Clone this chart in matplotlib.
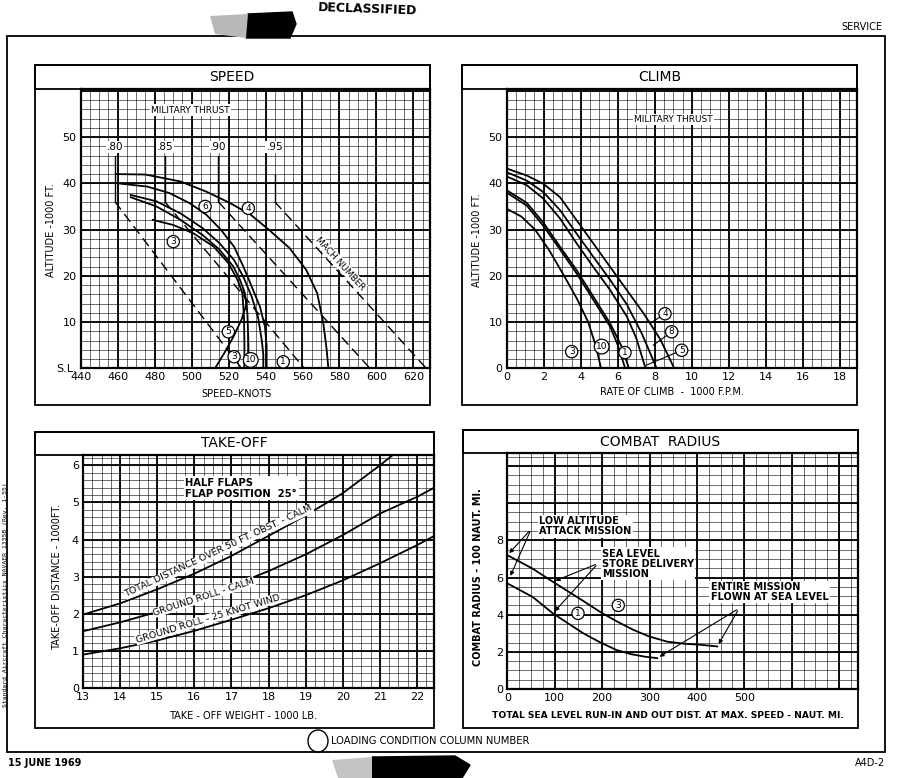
import matplotlib
matplotlib.use("Agg")
import matplotlib.pyplot as plt
from matplotlib.patches import Rectangle, Ellipse, Polygon
import numpy as np

plt.rcParams['font.family'] = ['DejaVu Sans']

# ---------------- SPEED (knots vs 1000 ft) ----------------
spd_c4_kts = [459, 475, 494, 508, 521, 532, 542, 553, 562, 568, 571.3, 573.1, 574]
spd_c4_alt = [42, 41.9, 40.4, 38.2, 35.7, 33.2, 29.9, 26, 21.3, 16.2, 9.7, 4, 0]
spd_c6_kts = [460, 476, 488, 499, 508, 516, 523, 528, 532.5, 537, 539.7, 540.6, 540.6]
spd_c6_alt = [40, 39.3, 37.9, 35.7, 33.2, 29.9, 26.3, 22, 17.7, 13.3, 9, 4.7, 0]
spd_c1_kts = [467, 481, 494, 506, 515, 523, 528, 532.5, 536, 538, 538.8, 538.8]
spd_c1_alt = [37.5, 36.1, 33.5, 30.3, 27.1, 23.4, 19.8, 15.5, 11, 6, 3, 0]
spd_c10_kts = [467, 481, 494, 506, 515, 522.6, 526.2, 528.9, 530.2, 530.7, 530.9]
spd_c10_alt = [37, 35, 32.1, 28.8, 25.7, 22, 19.1, 16.2, 11.9, 6.1, 0]
spd_c3_kts = [479, 490, 501, 512, 520, 525, 527.5, 528.4, 528.6, 528.5]
spd_c3_alt = [32.1, 31, 29.2, 26.3, 22.7, 19, 16.2, 10.5, 4.7, 0]
spd_c5_kts = [528, 529.8, 527, 522.6, 518, 512.7]
spd_c5_alt = [17, 14, 10.5, 6.8, 3.5, 0]

mach_labels = ['.80', '.85', '.90', '.95']
mach_tropo_kts = [458.6, 485.6, 514.5, 545]
mach_top_alt = [46, 46, 46, 41.8]
mach_sl_kts = [527, 561, 596.5, 627]
tropo_alt = 36

spd_lbl_text = ['6', '4', '3', '5', '3', '10', '1']
spd_lbl_kts = [507.3, 530.7, 490.1, 519.9, 523, 532, 549.6]
spd_lbl_alt = [35.0, 34.6, 27.4, 7.9, 2.5, 1.8, 1.4]

# ---------------- CLIMB (1000 fpm vs 1000 ft) ----------------
clb_c4_roc = [0, 1.08, 1.98, 2.88, 3.78, 4.68, 5.59, 6.49, 7.39, 8.29, 9.05]
clb_c4_alt = [43.2, 41.7, 39.9, 37, 32, 27, 21.9, 16.9, 11.9, 6.3, 0]
clb_c8_roc = [0, 1.08, 1.98, 2.88, 3.78, 4.68, 5.59, 6.49, 7.3, 8.1]
clb_c8_alt = [42.4, 40.6, 38.1, 34.2, 29.1, 24.1, 19.1, 13.8, 7.5, 0]
clb_c5_roc = [0, 1.08, 1.98, 2.88, 3.78, 4.68, 5.59, 6.49, 7.0, 7.5]
clb_c5_alt = [41.5, 39.6, 36.7, 32.4, 27, 21.9, 16.9, 11.2, 6.5, 0]
clb_c1_roc = [0, 1.08, 1.98, 2.88, 3.78, 4.68, 5.59, 6.2, 6.6]
clb_c1_alt = [38.5, 35.8, 31.5, 26.3, 21.2, 15.5, 9.7, 4.8, 0]
clb_c10_roc = [0, 1.08, 1.98, 2.88, 3.78, 4.68, 5.59, 6.0, 6.4]
clb_c10_alt = [38, 35.2, 30.8, 25.7, 20.5, 14.8, 9, 5, 0]
clb_c3_roc = [0, 0.8, 1.53, 2.3, 3.1, 3.8, 4.4, 4.8, 5.1]
clb_c3_alt = [34.5, 32.8, 30, 25.5, 20, 15, 10, 5, 0]

clb_lbl_text = ['3', '10', '1', '4', '8', '5']
clb_lbl_roc = [3.51, 5.13, 6.39, 8.55, 8.91, 9.45]
clb_lbl_alt = [3.6, 4.7, 3.4, 11.8, 7.9, 3.9]
clb_lead_roc = [7.74, 7.92, 7.56]
clb_lead_alt = [9.7, 5.0, 0.7]

# ---------------- TAKE-OFF (1000 lb vs 1000 ft) ----------------
to_total_wt = [13, 14, 15, 16, 17, 18, 19, 20, 21, 21.35]
to_total_dist = [1.98, 2.28, 2.66, 3.08, 3.56, 4.1, 4.65, 5.25, 6.0, 6.28]
to_calm_wt = [13, 14, 15, 16, 17, 18, 19, 20, 21, 22, 22.45]
to_calm_dist = [1.53, 1.77, 2.05, 2.38, 2.75, 3.15, 3.6, 4.12, 4.7, 5.15, 5.39]
to_wind_wt = [13, 14, 15, 16, 17, 18, 19, 20, 21, 22, 22.45]
to_wind_dist = [0.9, 1.07, 1.28, 1.54, 1.84, 2.15, 2.5, 2.9, 3.36, 3.85, 4.09]

# ---------------- COMBAT RADIUS (naut mi vs 100 naut mi) ----------------
cr_c3_dist = [0, 53, 96, 124, 160, 195, 230, 266, 300, 337, 372, 408, 443]
cr_c3_rad = [7.2, 6.48, 5.77, 5.32, 4.74, 4.16, 3.65, 3.18, 2.82, 2.55, 2.44, 2.38, 2.29]
cr_c1_dist = [0, 53, 96, 130, 160, 195, 230, 260, 290, 316]
cr_c1_rad = [5.68, 4.96, 4.07, 3.5, 3.0, 2.52, 2.1, 1.88, 1.74, 1.66]

W, H = 900, 778
fig = plt.figure(figsize=(9, 7.78), dpi=100)
fig.patch.set_facecolor('white')


def fx(px):
    return px / W


def fy(py):
    return 1 - py / H


def axes_px(l, t, r, b):
    return fig.add_axes([fx(l), fy(b), (r - l) / W, (b - t) / H])


def rect_px(l, t, r, b, lw=1.2, fc='none', z=1, ec='black'):
    fig.add_artist(Rectangle((fx(l), fy(b)), (r - l) / W, (b - t) / H,
                             transform=fig.transFigure, fill=(fc != 'none'),
                             facecolor=fc if fc != 'none' else 'white',
                             edgecolor=ec, lw=lw, zorder=z))


def text_px(px, py, s, **kw):
    return fig.text(fx(px), fy(py), s, **kw)


def graph_paper(ax, x0, x1, xmin_step, xmaj_step, y0, y1, ymin_step, ymaj_step):
    for v in np.arange(x0, x1 + 1e-9, xmin_step):
        ax.axvline(v, color='black', lw=0.5, alpha=0.8, zorder=1)
    for v in np.arange(x0, x1 + 1e-9, xmaj_step):
        ax.axvline(v, color='black', lw=1.3, zorder=1.5)
    for v in np.arange(y0, y1 + 1e-9, ymin_step):
        ax.axhline(v, color='black', lw=0.5, alpha=0.8, zorder=1)
    for v in np.arange(y0, y1 + 1e-9, ymaj_step):
        ax.axhline(v, color='black', lw=1.3, zorder=1.5)


def style_axes(ax):
    for s in ax.spines.values():
        s.set_linewidth(1.6)
    ax.tick_params(length=0, labelsize=8, pad=3)


def circ(ax, x, y, s, fs=6.5):
    ax.text(x, y, s, ha='center', va='center', fontsize=fs, zorder=6,
            bbox=dict(boxstyle='circle,pad=0.18', fc='white', ec='black', lw=0.9))


def angle(ax, p0, p1):
    a = ax.transData.transform(p0)
    b = ax.transData.transform(p1)
    return np.degrees(np.arctan2(b[1] - a[1], b[0] - a[0]))


# ---------------- page frame and panels ----------------
rect_px(7, 36, 885, 752, lw=1.3)
for (l, t, r, b, tb) in [(35, 65, 430, 405, 89), (462, 65, 857, 405, 89),
                         (35, 432, 434, 728, 455), (463, 430, 858, 728, 453)]:
    rect_px(l, t, r, b, lw=1.3)
    rect_px(l, t, r, tb, lw=1.3)

text_px(882, 27, 'SERVICE', ha='right', va='center', fontsize=7)
text_px(8, 763, '15 JUNE 1969', ha='left', va='center', fontsize=7, fontweight='bold')
text_px(885, 763, 'A4D-2', ha='right', va='center', fontsize=7)
text_px(368, 1.5, 'DECLASSIFIED', ha='center', va='top', fontsize=9,
        fontweight='bold', rotation=-2)
text_px(6, 595, 'Standard Aircraft Characteristics NAVAER 1335B (Rev. 1-55)',
        rotation=90, ha='center', va='center', fontsize=4.6, family='DejaVu Sans Mono')
fig.add_artist(Ellipse((fx(318), fy(741)), 20 / W, 22 / H, transform=fig.transFigure,
                       fill=False, lw=1.0, ec='black'))
text_px(331, 741, 'LOADING CONDITION COLUMN NUMBER', ha='left', va='center', fontsize=7.2)

# redaction smudges
fig.add_artist(Polygon([(fx(248), fy(14)), (fx(292), fy(12)), (fx(296), fy(24)),
                        (fx(290), fy(38)), (fx(246), fy(38))], closed=True,
                       transform=fig.transFigure, fc='black', ec='black'))
fig.add_artist(Polygon([(fx(210), fy(16)), (fx(248), fy(14)), (fx(246), fy(38)),
                        (fx(215), fy(34))], closed=True,
                       transform=fig.transFigure, fc='#b8b8b8', ec='none'))
fig.add_artist(Polygon([(fx(372), fy(757)), (fx(455), fy(756)), (fx(470), fy(765)),
                        (fx(462), fy(778)), (fx(372), fy(778))], closed=True,
                       transform=fig.transFigure, fc='black', ec='black'))
fig.add_artist(Polygon([(fx(332), fy(760)), (fx(372), fy(757)), (fx(372), fy(778)),
                        (fx(338), fy(778))], closed=True,
                       transform=fig.transFigure, fc='#c4c4c4', ec='none'))

# ---------------- SPEED ----------------
ax = axes_px(80.7, 89, 430, 368.3)
ax.set_xlim(440, 629)
ax.set_ylim(0, 60.4)
graph_paper(ax, 440, 625, 5, 20, 0, 60, 2, 10)
style_axes(ax)
ax.set_xticks(range(440, 621, 20))
ax.set_yticks([0, 10, 20, 30, 40, 50])
ax.set_yticklabels(['S.L.', '10', '20', '30', '40', '50'])
for xs, ys in [(spd_c4_kts, spd_c4_alt), (spd_c6_kts, spd_c6_alt), (spd_c1_kts, spd_c1_alt),
               (spd_c10_kts, spd_c10_alt), (spd_c3_kts, spd_c3_alt), (spd_c5_kts, spd_c5_alt)]:
    ax.plot(xs, ys, color='black', lw=1.3, zorder=4)
for lab, xt, ya, xs in zip(mach_labels, mach_tropo_kts, mach_top_alt, mach_sl_kts):
    ax.plot([xt, xt], [ya, tropo_alt], color='black', lw=1.0, zorder=3)
    ax.plot([xt, xs], [tropo_alt, 0], color='black', lw=1.0, dashes=(7, 4), zorder=3)
    ax.text(xt, 47.8, lab, ha='center', va='center', fontsize=7.5, zorder=5,
            bbox=dict(boxstyle='square,pad=0.1', fc='white', ec='none'))
rot = angle(ax, (mach_tropo_kts[3], tropo_alt), (mach_sl_kts[3], 0))
ax.text(580.5, 22.7, 'MACH NUMBER', rotation=rot, ha='center', va='center', fontsize=6.5,
        zorder=5, bbox=dict(boxstyle='square,pad=0.1', fc='white', ec='none'))
ax.text(499.5, 55.8, 'MILITARY THRUST', ha='center', va='center', fontsize=6.5, zorder=5,
        bbox=dict(boxstyle='square,pad=0.15', fc='white', ec='none'))
for s, xk, ya in zip(spd_lbl_text, spd_lbl_kts, spd_lbl_alt):
    circ(ax, xk, ya, s)
text_px(232, 77, 'SPEED', ha='center', va='center', fontsize=10)
text_px(237, 394, 'SPEED\u2013KNOTS', ha='center', va='center', fontsize=7)
text_px(51, 230, 'ALTITUDE -1000 FT.', rotation=90, ha='center', va='center', fontsize=7)

# ---------------- CLIMB ----------------
ax = axes_px(506.7, 89, 857, 368.3)
ax.set_xlim(0, 18.92)
ax.set_ylim(0, 60.4)
graph_paper(ax, 0, 18.5, 0.5, 2, 0, 60, 2, 10)
style_axes(ax)
ax.set_xticks(range(0, 19, 2))
ax.set_yticks(range(0, 51, 10))
for xs, ys in [(clb_c4_roc, clb_c4_alt), (clb_c8_roc, clb_c8_alt), (clb_c5_roc, clb_c5_alt),
               (clb_c1_roc, clb_c1_alt), (clb_c10_roc, clb_c10_alt), (clb_c3_roc, clb_c3_alt)]:
    ax.plot(xs, ys, color='black', lw=1.3, zorder=4)
for i in range(3):
    ax.plot([clb_lbl_roc[3 + i], clb_lead_roc[i]], [clb_lbl_alt[3 + i], clb_lead_alt[i]],
            color='black', lw=0.8, zorder=4)
for s, xr, ya in zip(clb_lbl_text, clb_lbl_roc, clb_lbl_alt):
    circ(ax, xr, ya, s)
ax.text(9.0, 53.8, 'MILITARY THRUST', ha='center', va='center', fontsize=6.5, zorder=5,
        bbox=dict(boxstyle='square,pad=0.15', fc='white', ec='none'))
text_px(660, 77, 'CLIMB', ha='center', va='center', fontsize=10)
text_px(672, 392, 'RATE OF CLIMB  -  1000 F.P.M.', ha='center', va='center', fontsize=7)
text_px(477, 240, 'ALTITUDE -1000 FT.', rotation=90, ha='center', va='center', fontsize=7)

# ---------------- TAKE-OFF ----------------
ax = axes_px(83, 455, 434, 688)
ax.set_xlim(13, 22.46)
ax.set_ylim(0, 6.28)
graph_paper(ax, 13, 22.25, 0.25, 1, 0, 6.2, 0.2, 1)
style_axes(ax)
ax.set_xticks(range(13, 23))
ax.set_yticks(range(0, 7))
ax.plot(to_total_wt, to_total_dist, color='black', lw=1.3, zorder=4)
ax.plot(to_calm_wt, to_calm_dist, color='black', lw=1.3, zorder=4)
ax.plot(to_wind_wt, to_wind_dist, color='black', lw=1.3, zorder=4)
tb = dict(boxstyle='square,pad=0.05', fc='white', ec='none')
ax.text(16.66, 3.68, 'TOTAL DISTANCE OVER 50 FT. OBST. - CALM', ha='center', va='center',
        rotation=angle(ax, (13.5, 2.25), (19.8, 5.2)), fontsize=6.8, zorder=5, bbox=tb)
ax.text(16.25, 2.45, 'GROUND ROLL - CALM', ha='center', va='center',
        rotation=angle(ax, (14.6, 1.93), (17.9, 3.0)), fontsize=6.8, zorder=5, bbox=tb)
ax.text(16.37, 1.86, 'GROUND ROLL - 25 KNOT WIND', ha='center', va='center',
        rotation=angle(ax, (14.1, 1.2), (18.6, 2.55)), fontsize=6.8, zorder=5, bbox=tb)
ax.text(15.76, 5.38, 'HALF FLAPS\nFLAP POSITION  25\u00b0', ha='left', va='center',
        fontsize=7.2, fontweight='bold', zorder=5, linespacing=1.1,
        bbox=dict(boxstyle='square,pad=0.15', fc='white', ec='none'))
text_px(234, 443, 'TAKE-OFF', ha='center', va='center', fontsize=10)
text_px(243, 716, 'TAKE - OFF WEIGHT - 1000 LB.', ha='center', va='center', fontsize=7)
text_px(57, 577, 'TAKE-OFF DISTANCE - 1000FT.', rotation=90, ha='center', va='center',
        fontsize=7)

# ---------------- COMBAT RADIUS ----------------
ax = axes_px(507.4, 453, 858, 689)
ax.set_xlim(0, 740)
ax.set_ylim(0, 12.7)
graph_paper(ax, 0, 725, 25, 100, 0, 12.5, 0.5, 2)
style_axes(ax)
ax.set_xticks(range(0, 501, 100))
ax.set_yticks(range(0, 9, 2))
ax.plot(cr_c3_dist, cr_c3_rad, color='black', lw=1.3, zorder=4)
ax.plot(cr_c1_dist, cr_c1_rad, color='black', lw=1.3, zorder=4)
ap = dict(arrowstyle='-|>', lw=0.8, color='black', mutation_scale=6)
for tgt in [(0, cr_c3_rad[0]), (4, 5.95)]:
    ax.annotate('', xy=tgt, xytext=(50, 8.6), arrowprops=ap, zorder=5)
for tgt in [(96, 5.77), (96, 4.07)]:
    ax.annotate('', xy=tgt, xytext=(191, 6.75), arrowprops=ap, zorder=5)
for tgt in [(cr_c1_dist[-1], cr_c1_rad[-1]), (cr_c3_dist[-1], cr_c3_rad[-1])]:
    ax.annotate('', xy=tgt, xytext=(489, 4.34), arrowprops=ap, zorder=5)
lb = dict(boxstyle='square,pad=0.12', fc='white', ec='none')
ax.text(67, 8.75, 'LOW ALTITUDE\nATTACK MISSION', ha='left', va='center', fontsize=7,
        fontweight='bold', linespacing=1.0, zorder=6, bbox=lb)
ax.text(200, 6.75, 'SEA LEVEL\nSTORE DELIVERY\nMISSION', ha='left', va='center', fontsize=7,
        fontweight='bold', linespacing=1.0, zorder=6, bbox=lb)
ax.text(429, 5.23, 'ENTIRE MISSION\nFLOWN AT SEA LEVEL', ha='left', va='center', fontsize=7,
        fontweight='bold', linespacing=1.0, zorder=6, bbox=lb)
circ(ax, 149, 4.07, '1')
circ(ax, 234, 4.5, '3')
text_px(660, 442, 'COMBAT  RADIUS', ha='center', va='center', fontsize=10)
text_px(668, 715, 'TOTAL SEA LEVEL RUN-IN AND OUT DIST. AT MAX. SPEED - NAUT. MI.',
        ha='center', va='center', fontsize=6.6, fontweight='bold')
text_px(478, 577, 'COMBAT RADIUS - 100 NAUT. MI.', rotation=90, ha='center', va='center',
        fontsize=7, fontweight='bold')

fig.savefig('out.png', dpi=100, facecolor='white')
